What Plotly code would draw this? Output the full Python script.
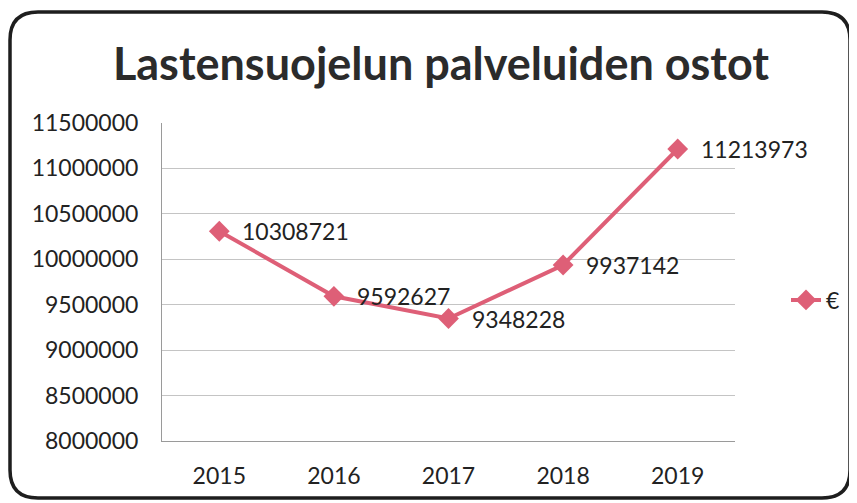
import plotly.graph_objects as go

years = ["2015", "2016", "2017", "2018", "2019"]
values = [10308721, 9592627, 9348228, 9937142, 11213973]
y_ticks = [8000000, 8500000, 9000000, 9500000, 10000000, 10500000, 11000000, 11500000]
series_name = "€"
title_text = "Lastensuojelun palveluiden ostot"

# page has an 8px body margin; work in screen coords and subtract it
OFF = 8
W, H = 857 - OFF, 503 - OFF
L, R, T, B = 162 - OFF, 857 - 735, 123 - OFF, 503 - 441
PW, PH = W - L - R, H - T - B

def px(x):
    return (x - OFF - L) / PW

def py(y):
    return (H - B - (y - OFF)) / PH

# rounded border path in paper coords (screen pixel inputs)
x0, x1, y0, y1, r = 10, 850, 12, 498, 28
pts = [
    f"M {px(x0 + r)},{py(y0)}",
    f"L {px(x1 - r)},{py(y0)}",
    f"Q {px(x1)},{py(y0)} {px(x1)},{py(y0 + r)}",
    f"L {px(x1)},{py(y1 - r)}",
    f"Q {px(x1)},{py(y1)} {px(x1 - r)},{py(y1)}",
    f"L {px(x0 + r)},{py(y1)}",
    f"Q {px(x0)},{py(y1)} {px(x0)},{py(y1 - r)}",
    f"L {px(x0)},{py(y0 + r)}",
    f"Q {px(x0)},{py(y0)} {px(x0 + r)},{py(y0)}",
    "Z",
]
border_path = " ".join(pts)

color = "#DE5F77"
font_fam = "Lato, 'Open Sans', sans-serif"
txt_col = "#222222"

fig = go.Figure()
fig.add_trace(go.Scatter(
    x=years, y=values, name=series_name,
    mode="lines+markers",
    line=dict(color=color, width=4),
    marker=dict(symbol="diamond", size=16, color=color),
    cliponaxis=False,
))

annotations = [
    dict(x=i, y=v, xref="x", yref="y", text=str(v), showarrow=False,
         xanchor="left", yanchor="middle", xshift=21,
         font=dict(size=23, color=txt_col, family=font_fam))
    for i, v in enumerate(values)
]

fig.update_layout(
    width=W, height=H,
    margin=dict(l=L, r=R, t=T, b=B),
    paper_bgcolor="white", plot_bgcolor="white",
    title=dict(text=f"<b>{title_text}</b>", x=(441 - OFF) / W, xref="container", xanchor="center",
               y=1 - (64 - OFF) / H, yref="container", yanchor="middle",
               font=dict(size=45, color="#2b2b2b", family=font_fam)),
    showlegend=True,
    legend=dict(x=px(786), y=py(300), xanchor="left", yanchor="middle",
                font=dict(size=23, color=txt_col, family=font_fam),
                bgcolor="rgba(0,0,0,0)"),
    annotations=annotations,
    xaxis=dict(type="category", range=[-0.5, 4.5], showgrid=False,
               showline=True, linecolor="#9a9a9a", linewidth=1,
               ticks="", tickfont=dict(size=23, color=txt_col, family=font_fam),
               ticklabelstandoff=14),
    yaxis=dict(range=[8000000, 11500000], tickvals=y_ticks, ticktext=[str(v) for v in y_ticks],
               showgrid=True, gridcolor="#c4c4c4", gridwidth=1,
               showline=True, linecolor="#9a9a9a", linewidth=1, zeroline=False,
               ticks="", tickfont=dict(size=23, color=txt_col, family=font_fam),
               ticklabelstandoff=18),
    shapes=[dict(type="path", path=border_path, xref="paper", yref="paper",
                 line=dict(color="#1e1e1e", width=3.5), fillcolor="rgba(0,0,0,0)")],
)

fig.write_html("out.html")
